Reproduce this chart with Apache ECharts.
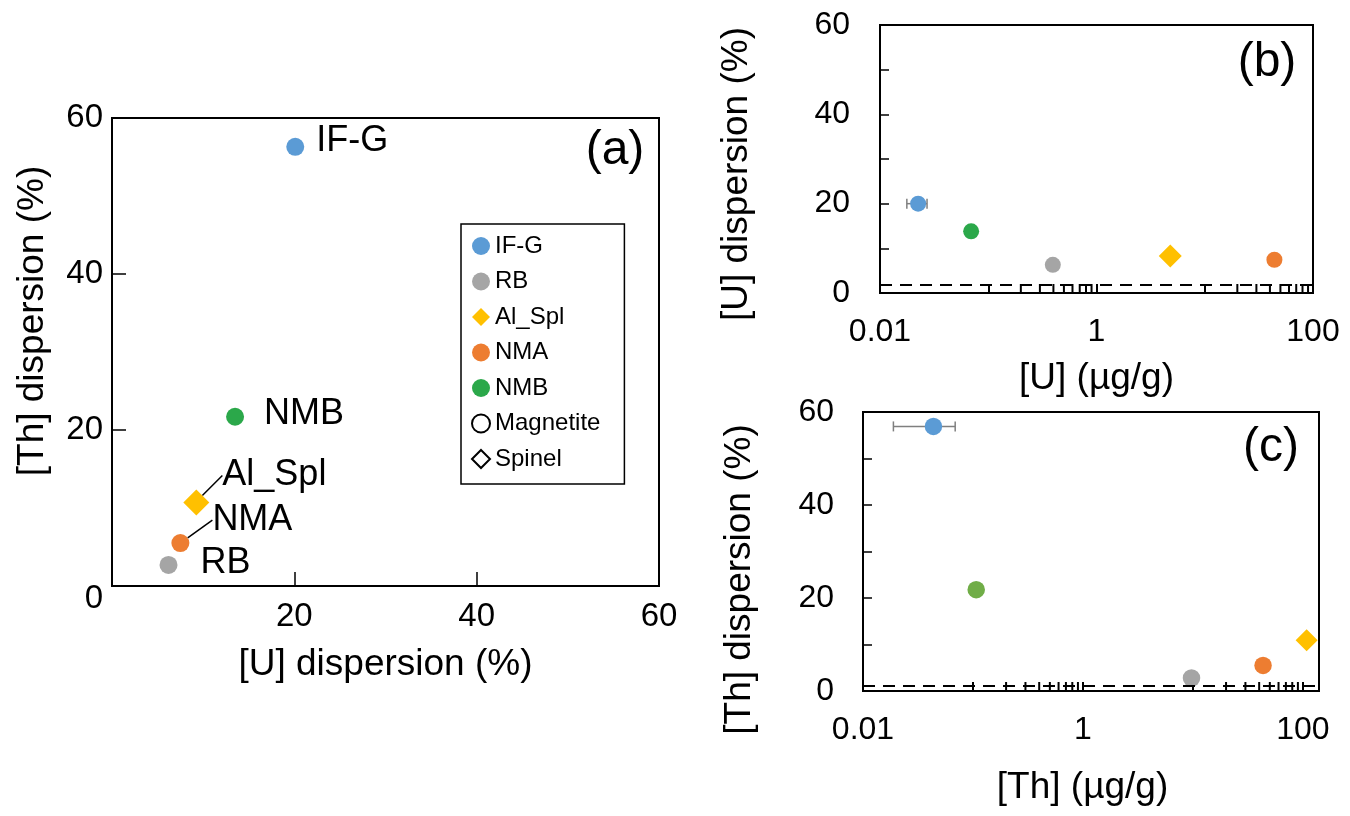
<!DOCTYPE html>
<html><head><meta charset="utf-8">
<script src="https://cdn.jsdelivr.net/npm/echarts@6/dist/echarts.min.js"></script>
<style>html,body{margin:0;padding:0;background:#fff}#c{width:1350px;height:816px}</style>
</head><body><div id="c"></div>
<script>
// ---------- data ----------
const samples = ['IF-G', 'RB', 'Al_Spl', 'NMA', 'NMB'];
const sampleColorsAB = ['#5B9BD5', '#A5A5A5', '#FFC000', '#ED7D31', '#2BA84A'];
const sampleColorsC = ['#5B9BD5', '#A5A5A5', '#FFC000', '#ED7D31', '#70AD47'];
const sampleSymbols = ['circle', 'circle', 'diamond', 'circle', 'circle'];
const mineralNames = ['Magnetite', 'Spinel'];
const mineralSymbols = ['circle', 'diamond'];

// panel (a): [U] dispersion vs [Th] dispersion (%)
const uDispersionA = [20.1, 6.2, 9.25, 7.5, 13.5];
const thDispersionA = [56.3, 2.7, 10.7, 5.5, 21.7];

// panel (b): [U] (µg/g) vs [U] dispersion (%)
const uConc = [0.0225, 0.395, 4.8, 44, 0.0695];
const uDispersionB = [20.0, 6.3, 8.3, 7.45, 13.8];
const uConcErrIFG = [0.0177, 0.0272];   // x error bar of IF-G
const refLineB = 1.9;

// panel (c): [Th] (µg/g) vs [Th] dispersion (%)
const thConc = [0.0437, 9.7, 108, 43.4, 0.107];
const thDispersionC = [56.9, 2.8, 10.9, 5.5, 21.8];
const thConcErrIFG = [0.0189, 0.0689];
const refLineC = 1.1;

// tick labels
const linTickLabelStep = 20;
const logTickValues = [0.01, 1, 100];
const logTickLabels = ['0.01', '1', '100'];
const logMinorTicks = [0.2, 0.3, 0.4, 0.5, 0.6, 0.7, 0.8, 0.9, 20, 30, 40, 50, 60, 70, 80, 90];

// ---------- helpers ----------
const FONT = '"Liberation Sans", Arial, Helvetica, sans-serif';
function logLabel(v) {
  const i = logTickValues.findIndex(t => Math.abs(Math.log10(v) - Math.log10(t)) < 1e-6);
  return i >= 0 ? logTickLabels[i] : '';
}
const lineStyle2 = { color: '#000', width: 2 };

function errRender(params, api) {
  const y = api.value(2);
  const lo = api.coord([api.value(0), y]);
  const hi = api.coord([api.value(1), y]);
  const h = 5;
  const st = { stroke: '#7F7F7F', lineWidth: 1.5 };
  return {
    type: 'group', children: [
      { type: 'line', shape: { x1: lo[0], y1: lo[1], x2: hi[0], y2: hi[1] }, style: st },
      { type: 'line', shape: { x1: lo[0], y1: lo[1] - h, x2: lo[0], y2: lo[1] + h }, style: st },
      { type: 'line', shape: { x1: hi[0], y1: hi[1] - h, x2: hi[0], y2: hi[1] + h }, style: st }
    ]
  };
}

// label placement for panel (a) (styling only)
const labelPlacementA = {
  'IF-G': { offset: [7, -6] },
  'RB': { offset: [18, -2] },
  'Al_Spl': { layout: { dx: 8, dy: -27 }, line: true },
  'NMA': { layout: { dx: 18, dy: -23 }, line: true },
  'NMB': { offset: [15, -3] }
};

const series = [];
// panel (a)
samples.forEach((name, i) => {
  const p = labelPlacementA[name];
  const s = {
    name, type: 'scatter', xAxisIndex: 0, yAxisIndex: 0,
    symbol: sampleSymbols[i], symbolSize: sampleSymbols[i] === 'diamond' ? 26 : 18,
    itemStyle: { color: sampleColorsAB[i], opacity: 1 },
    data: [[uDispersionA[i], thDispersionA[i]]],
    label: { show: true, position: 'right', formatter: '{a}', fontSize: 36, color: '#000', fontFamily: FONT, offset: p.offset || [0, 0] },
    z: 3
  };
  if (p.layout) s.labelLayout = p.layout;
  if (p.line) s.labelLine = { show: true, lineStyle: { color: '#000', width: 1.5, opacity: 1 } };
  series.push(s);
});
// legend-only mineral series
mineralNames.forEach((name, i) => {
  series.push({
    name, type: 'scatter', xAxisIndex: 0, yAxisIndex: 0, symbol: mineralSymbols[i], symbolSize: 18,
    itemStyle: { color: '#fff', borderColor: '#000', borderWidth: 1.5, opacity: 1 }, data: []
  });
});
// panels (b) and (c)
[[1, uConc, uDispersionB, sampleColorsAB, 23, 16], [2, thConc, thDispersionC, sampleColorsC, 22, 17.5]].forEach(([g, xs, ys, cols, dSize, cSize]) => {
  samples.forEach((name, i) => {
    series.push({
      name, type: 'scatter', xAxisIndex: g, yAxisIndex: g,
      symbol: sampleSymbols[i], symbolSize: sampleSymbols[i] === 'diamond' ? dSize : cSize,
      itemStyle: { color: cols[i], opacity: 1 }, data: [[xs[i], ys[i]]], z: 4
    });
  });
});
// error bars
series.push({ type: 'custom', xAxisIndex: 1, yAxisIndex: 1, renderItem: errRender, encode: { x: [0, 1], y: 2 }, data: [[uConcErrIFG[0], uConcErrIFG[1], uDispersionB[0]]], z: 2, silent: true });
series.push({ type: 'custom', xAxisIndex: 2, yAxisIndex: 2, renderItem: errRender, encode: { x: [0, 1], y: 2 }, data: [[thConcErrIFG[0], thConcErrIFG[1], thDispersionC[0]]], z: 2, silent: true });
// minor log ticks + dashed reference lines
[[1, refLineB], [2, refLineC]].forEach(([g, ref]) => {
  series.push({
    type: 'scatter', xAxisIndex: g, yAxisIndex: g, silent: true, clip: false,
    symbol: 'rect', symbolSize: [2, 9], symbolOffset: [0, -4.5],
    itemStyle: { color: '#000', opacity: 1 }, data: logMinorTicks.map(v => [v, 0]), z: 5,
    markLine: {
      silent: true, symbol: 'none', label: { show: false },
      lineStyle: { color: '#000', width: 2, type: [12, 8], opacity: 1 },
      data: [{ yAxis: ref }]
    }
  });
});

function linY(gi, extra) {
  return Object.assign({
    type: 'value', gridIndex: gi, min: 0, max: 60, interval: 10,
    axisLine: { show: true, lineStyle: lineStyle2 },
    axisTick: { show: true, inside: true, length: 9, lineStyle: { color: '#000', width: 1.5 } },
    splitLine: { show: false },
    nameLocation: 'middle'
  }, extra);
}
function logX(gi, extra) {
  return Object.assign({
    type: 'log', logBase: 10, gridIndex: gi, min: 0.01,
    axisLine: { show: true, lineStyle: lineStyle2 },
    axisTick: { show: true, inside: true, length: 9, lineStyle: { color: '#000', width: 2 } },
    axisLabel: { color: '#000', fontSize: 32, fontFamily: FONT, margin: 23, formatter: logLabel, showMinLabel: true, showMaxLabel: true },
    splitLine: { show: false }, minorTick: { show: false },
    nameLocation: 'middle'
  }, extra);
}

const option = {
  animation: false,
  backgroundColor: '#fff',
  textStyle: { fontFamily: FONT, color: '#000' },
  grid: [
    { left: 112, top: 118, width: 547, height: 468, show: true, borderColor: '#000', borderWidth: 2, backgroundColor: 'transparent' },
    { left: 880, top: 25, width: 433, height: 268, show: true, borderColor: '#000', borderWidth: 2, backgroundColor: 'transparent' },
    { left: 863, top: 412, width: 456, height: 279, show: true, borderColor: '#000', borderWidth: 2, backgroundColor: 'transparent' }
  ],
  xAxis: [
    {
      type: 'value', gridIndex: 0, min: 0, max: 60, interval: 20,
      axisLine: { show: true, lineStyle: lineStyle2 },
      axisTick: { show: true, inside: true, length: 14, lineStyle: { color: '#000', width: 1.5 } },
      axisLabel: { color: '#000', fontSize: 33, fontFamily: FONT, margin: 14, formatter: v => (v === 0 ? '' : String(v)) },
      splitLine: { show: false },
      name: '[U] dispersion (%)', nameLocation: 'middle', nameGap: 60,
      nameTextStyle: { fontSize: 37, color: '#000', fontFamily: FONT }
    },
    logX(1, { max: 100, name: '[U] (µg/g)', nameGap: 67, nameTextStyle: { fontSize: 37, color: '#000', fontFamily: FONT } }),
    logX(2, { max: 140, name: '[Th] (µg/g)', nameGap: 78, nameTextStyle: { fontSize: 37, color: '#000', fontFamily: FONT, padding: [0, 17, 0, 0] } })
  ],
  yAxis: [
    {
      type: 'value', gridIndex: 0, min: 0, max: 60, interval: 20,
      axisLine: { show: true, lineStyle: lineStyle2 },
      axisTick: { show: true, inside: true, length: 14, lineStyle: { color: '#000', width: 1.5 } },
      axisLabel: {
        color: '#000', fontSize: 33, fontFamily: FONT, margin: 9,
        formatter: v => (v === 0 ? '{z|0}' : String(v)),
        rich: { z: { fontSize: 33, fontFamily: FONT, color: '#000', padding: [26, 0, 0, 0] } }
      },
      splitLine: { show: false },
      name: '[Th] dispersion (%)', nameLocation: 'middle', nameGap: 61,
      nameTextStyle: { fontSize: 37, color: '#000', fontFamily: FONT, padding: [0, 0, 0, 62] }
    },
    linY(1, { name: '[U] dispersion (%)', nameGap: 125, axisLabel: { color: '#000', fontSize: 32, fontFamily: FONT, margin: 30, formatter: v => (v % linTickLabelStep === 0 ? String(v) : '') }, nameTextStyle: { fontSize: 37, color: '#000', fontFamily: FONT, padding: [0, 30, 0, 0] } }),
    linY(2, { name: '[Th] dispersion (%)', nameGap: 105, axisLabel: { color: '#000', fontSize: 32, fontFamily: FONT, margin: 29, formatter: v => (v % linTickLabelStep === 0 ? String(v) : '') }, nameTextStyle: { fontSize: 37, color: '#000', fontFamily: FONT, padding: [0, 56, 0, 0] } })
  ],
  legend: {
    data: samples.concat(mineralNames),
    orient: 'vertical', left: 461, top: 224,
    padding: [10, 24, 13, 10], itemWidth: 18, itemHeight: 18, itemGap: 11.5,
    borderColor: '#000', borderWidth: 1.5, backgroundColor: '#fff',
    textStyle: { fontSize: 24, color: '#000', fontFamily: FONT },
    selectedMode: false
  },
  graphic: [
    { type: 'text', x: 615, y: 151, style: { text: '(a)', fontSize: 48, fontFamily: FONT, fill: '#000', align: 'center', verticalAlign: 'middle' } },
    { type: 'text', x: 1267, y: 63, style: { text: '(b)', fontSize: 48, fontFamily: FONT, fill: '#000', align: 'center', verticalAlign: 'middle' } },
    { type: 'text', x: 1271, y: 448, style: { text: '(c)', fontSize: 48, fontFamily: FONT, fill: '#000', align: 'center', verticalAlign: 'middle' } }
  ],
  series
};
const chart = echarts.init(document.getElementById('c'));
chart.setOption(option);
</script>
</body></html>
